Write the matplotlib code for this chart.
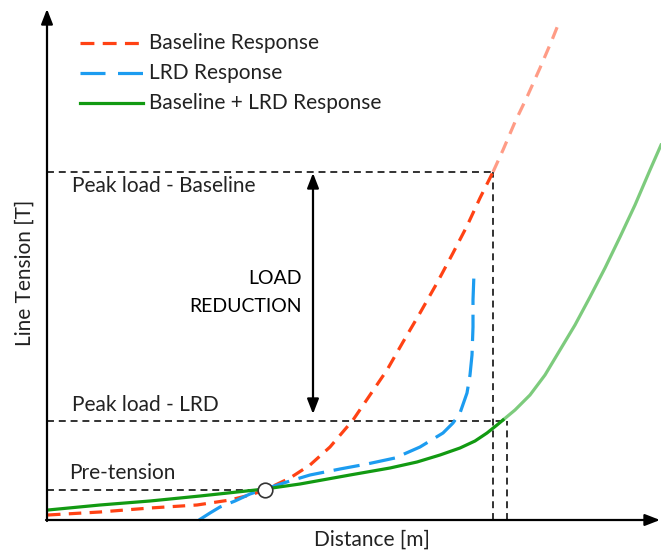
import numpy as np
import matplotlib
matplotlib.use("Agg")
import matplotlib.pyplot as plt

plt.rcParams['font.family'] = ['Lato', 'DejaVu Sans']
plt.rcParams['lines.scale_dashes'] = False

# baseline response (mooring line alone)
base_x = [1, 53, 103, 150, 183, 203, 218, 243, 263, 283, 306, 323, 340, 356, 373, 390, 406, 420, 433, 446]
base_y = [5, 8, 12, 15, 20, 25, 30, 42, 55, 73, 100, 125, 150, 178, 207, 237, 267, 294, 322, 348]
# continuation beyond the baseline peak (faded)
base_ext_x = [446, 456, 468, 480, 493, 505, 513]
base_ext_y = [348, 370, 398, 423, 452, 480, 500]

# load reduction device response
lrd_x = [152, 163, 173, 188, 203, 218, 243, 263, 293, 320, 348, 373, 396, 406, 413, 420, 423, 425, 426, 426, 427]
lrd_y = [0, 7, 13, 19, 26, 31, 39, 45, 51, 56, 62, 73, 87, 97, 107, 127, 145, 165, 193, 220, 247]

# combined baseline + LRD response
comb_x = [1, 53, 103, 153, 218, 253, 303, 343, 370, 393, 413, 428, 440, 450, 456]
comb_y = [10, 15, 19, 24, 31, 36, 45, 52, 58, 65, 72, 79, 87, 95, 100]
comb_ext_x = [456, 468, 483, 498, 513, 528, 543, 558, 573, 588, 603, 614]
comb_ext_y = [100, 110, 125, 145, 170, 195, 223, 252, 283, 315, 350, 375]

pretension = (218, 30)
peak_base = (446, 348)
peak_lrd = (460, 99)

fig = plt.figure(figsize=(6.61, 5.53), dpi=100)
ax = fig.add_axes([0, 0, 1, 1])
ax.set_xlim(-47, 614)
ax.set_ylim(-33, 520)
ax.axis('off')

# axes drawn as arrows
arr = dict(arrowstyle='-|>,head_length=0.9,head_width=0.35', color='black', lw=1.6,
           shrinkA=0, shrinkB=0)
ax.annotate('', xy=(0, 511), xytext=(0, -1), arrowprops=arr)
ax.annotate('', xy=(613, 0), xytext=(-1, 0), arrowprops=arr)

# guide lines
guide = dict(color='#222222', lw=1.3, dashes=(5, 3.5))
ax.plot([0, peak_base[0]], [peak_base[1]] * 2, **guide)
ax.plot([peak_base[0]] * 2, [0, peak_base[1]], **guide)
ax.plot([0, peak_lrd[0]], [peak_lrd[1]] * 2, **guide)
ax.plot([peak_lrd[0]] * 2, [0, peak_lrd[1]], **guide)
ax.plot([0, pretension[0]], [pretension[1]] * 2, **guide)

# curves
ax.plot(base_ext_x, base_ext_y, color='#ff9c86', lw=2.3, dashes=(9, 6))
ax.plot(base_x, base_y, color='#ff4214', lw=2.3, dashes=(9, 6))
ax.plot(lrd_x, lrd_y, color='#1c9cf0', lw=2.3, dashes=(19, 7))
ax.plot(comb_ext_x, comb_ext_y, color='#7dcb7d', lw=2.3)
ax.plot(comb_x, comb_y, color='#129a12', lw=2.3)
ax.plot(*pretension, 'o', ms=10.5, mfc='white', mec='#333333', mew=1.2)

# load reduction arrow
ax.annotate('', xy=(266, peak_base[1] - 1), xytext=(266, peak_lrd[1] + 7),
            arrowprops=dict(arrowstyle='<|-|>,head_length=0.9,head_width=0.35',
                            color='black', lw=1.6, shrinkA=0, shrinkB=0))
fs = 15
ax.text(255, 242, 'LOAD', ha='right', va='center', fontsize=14)
ax.text(255, 213, 'REDUCTION', ha='right', va='center', fontsize=14)

ax.text(25, 334, 'Peak load - Baseline', ha='left', va='center', fontsize=fs, color='#222222')
ax.text(25, 115, 'Peak load - LRD', ha='left', va='center', fontsize=fs, color='#222222')
ax.text(22, 47, 'Pre-tension', ha='left', va='center', fontsize=fs, color='#222222')

ax.text(-22, 247, 'Line Tension [T]', rotation=90, ha='center', va='center', fontsize=fs,
        color='#222222')
ax.text(325, -20, 'Distance [m]', ha='center', va='center', fontsize=fs, color='#222222')

# legend
ax.plot([33, 96], [477, 477], color='#ff4214', lw=2.3, dashes=(10, 6))
ax.plot([33, 96], [447, 447], color='#1c9cf0', lw=2.3, dashes=(18, 9))
ax.plot([33, 96], [417, 417], color='#129a12', lw=2.3)
ax.text(102, 477, 'Baseline Response', va='center', fontsize=fs, color='#222222')
ax.text(102, 447, 'LRD Response', va='center', fontsize=fs, color='#222222')
ax.text(102, 417, 'Baseline + LRD Response', va='center', fontsize=fs, color='#222222')

fig.savefig('out.png', dpi=100)
